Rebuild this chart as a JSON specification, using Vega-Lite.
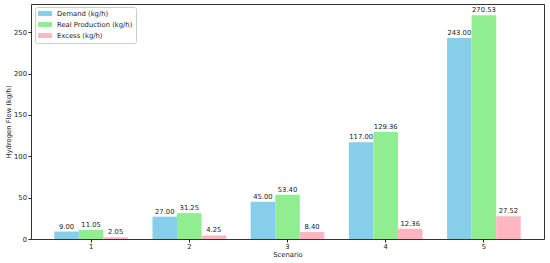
{
  "$schema": "https://vega.github.io/schema/vega-lite/v6.json",
  "width": 513,
  "height": 235,
  "autosize": {"type": "none"},
  "padding": {"left": 31, "top": 4, "right": 6, "bottom": 24},
  "background": "white",
  "config": {
    "font": "DejaVu Sans",
    "view": {"stroke": "#333333", "strokeWidth": 1},
    "axis": {
      "grid": false,
      "domain": false,
      "tickColor": "#222222",
      "tickSize": 3,
      "labelColor": "#222222",
      "labelFontSize": 6.8,
      "labelFont": "DejaVu Sans",
      "titleFont": "DejaVu Sans",
      "titleFontSize": 6.8,
      "titleFontWeight": "normal",
      "titleColor": "#222222",
      "labelPadding": 1.5
    }
  },
  "data": {
    "values": [
      {"scenario": "1", "series": "Demand (kg/h)", "value": 9.00},
      {"scenario": "1", "series": "Real Production (kg/h)", "value": 11.05},
      {"scenario": "1", "series": "Excess (kg/h)", "value": 2.05},
      {"scenario": "2", "series": "Demand (kg/h)", "value": 27.00},
      {"scenario": "2", "series": "Real Production (kg/h)", "value": 31.25},
      {"scenario": "2", "series": "Excess (kg/h)", "value": 4.25},
      {"scenario": "3", "series": "Demand (kg/h)", "value": 45.00},
      {"scenario": "3", "series": "Real Production (kg/h)", "value": 53.40},
      {"scenario": "3", "series": "Excess (kg/h)", "value": 8.40},
      {"scenario": "4", "series": "Demand (kg/h)", "value": 117.00},
      {"scenario": "4", "series": "Real Production (kg/h)", "value": 129.36},
      {"scenario": "4", "series": "Excess (kg/h)", "value": 12.36},
      {"scenario": "5", "series": "Demand (kg/h)", "value": 243.00},
      {"scenario": "5", "series": "Real Production (kg/h)", "value": 270.53},
      {"scenario": "5", "series": "Excess (kg/h)", "value": 27.52}
    ]
  },
  "encoding": {
    "x": {
      "field": "scenario",
      "type": "nominal",
      "title": "Scenario",
      "scale": {"paddingInner": 0.25, "paddingOuter": 0.237},
      "axis": {"labelAngle": 0, "titlePadding": 1}
    },
    "xOffset": {
      "field": "series",
      "type": "nominal",
      "sort": ["Demand (kg/h)", "Real Production (kg/h)", "Excess (kg/h)"],
      "scale": {"domain": ["Demand (kg/h)", "Real Production (kg/h)", "Excess (kg/h)"], "paddingInner": 0, "paddingOuter": 0}
    },
    "y": {
      "field": "value",
      "type": "quantitative",
      "title": "Hydrogen Flow (kg/h)",
      "scale": {"domain": [0, 284.06], "nice": false, "zero": true},
      "axis": {"values": [0, 50, 100, 150, 200, 250], "titlePadding": 2}
    }
  },
  "layer": [
    {
      "mark": {"type": "bar", "cornerRadius": 0},
      "encoding": {
        "color": {
          "field": "series",
          "type": "nominal",
          "scale": {
            "domain": ["Demand (kg/h)", "Real Production (kg/h)", "Excess (kg/h)"],
            "range": ["#87CEEB", "#90EE90", "#FFB6C1"]
          },
          "legend": {
            "title": null,
            "orient": "none",
            "legendX": 4,
            "legendY": 3,
            "symbolType": "M-1,-0.7H3V0.7H-1Z",
            "symbolSize": 49,
            "symbolStrokeWidth": 0,
            "symbolOpacity": 1,
            "labelFontSize": 6.8,
            "labelColor": "#222222",
            "labelFont": "DejaVu Sans",
            "labelOffset": 12,
            "rowPadding": 3,
            "padding": 3,
            "strokeColor": "#cccccc",
            "fillColor": "white",
            "cornerRadius": 2
          }
        }
      }
    },
    {
      "mark": {"type": "text", "baseline": "bottom", "dy": -2, "fontSize": 6.8, "color": "#222222", "font": "DejaVu Sans"},
      "encoding": {
        "text": {"field": "value", "type": "quantitative", "format": ".2f"}
      }
    }
  ]
}
